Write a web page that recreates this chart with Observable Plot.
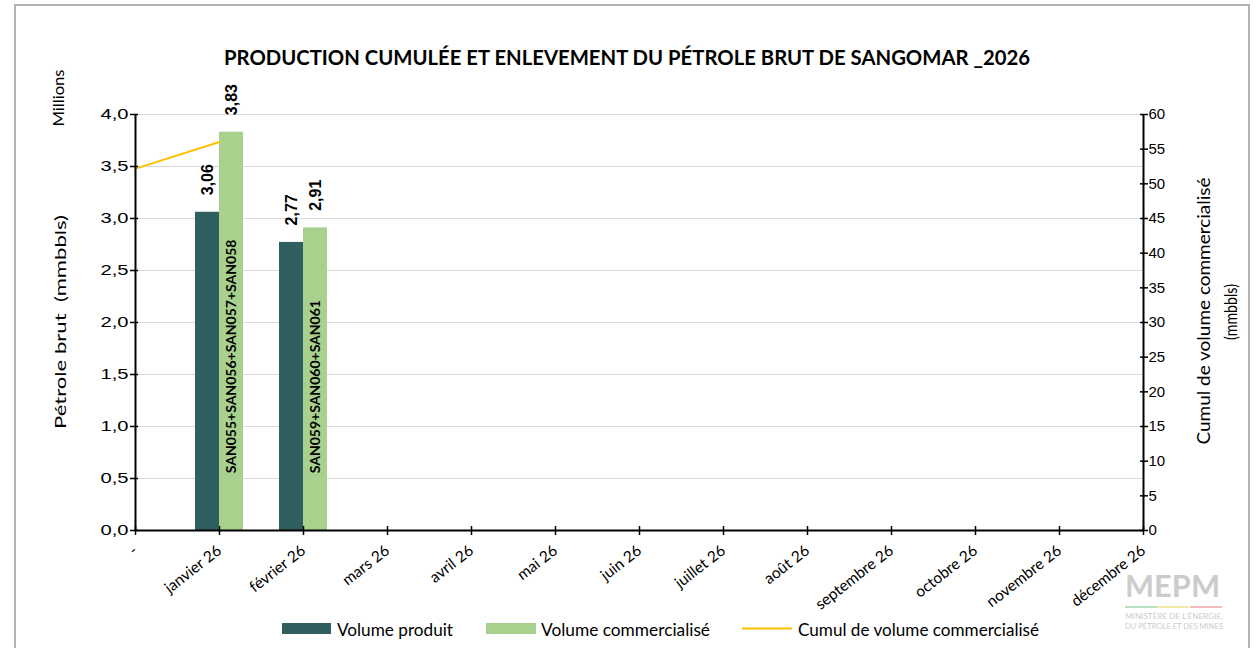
<!DOCTYPE html>
<html><head><meta charset="utf-8">
<script src="https://cdn.jsdelivr.net/npm/d3@7"></script>
<script src="https://cdn.jsdelivr.net/npm/@observablehq/plot@0.6"></script>
<style>body{margin:0;background:#fff;} #chart{position:relative;width:1258px;height:648px;overflow:hidden;}</style>
</head><body><div id="chart"></div>
<script>
const categories = ["-", "janvier 26", "février 26", "mars 26", "avril 26", "mai 26", "juin 26", "juillet 26", "août 26", "septembre 26", "octobre 26", "novembre 26", "décembre 26"];
const produced = [null, 3.06, 2.77, null, null, null, null, null, null, null, null, null, null];
const sold = [null, 3.83, 2.91, null, null, null, null, null, null, null, null, null, null];
const cumulative = [52.2, 56.03, null, null, null, null, null, null, null, null, null, null, null];
const liftings = [null, "SAN055+SAN056+SAN057+SAN058", "SAN059+SAN060+SAN061", null, null, null, null, null, null, null, null, null, null];
const leftTicks = [0, 0.5, 1, 1.5, 2, 2.5, 3, 3.5, 4];
const rightTicks = [0, 5, 10, 15, 20, 25, 30, 35, 40, 45, 50, 55, 60];
const seriesNames = ["Volume produit", "Volume commercialisé", "Cumul de volume commercialisé"];
const titleText = "PRODUCTION CUMULÉE ET ENLEVEMENT DU PÉTROLE BRUT DE SANGOMAR _2026";

const colors = ["#2F5F5E", "#A9D18E", "#FFC000"];
const rightPerLeft = 15;          // right axis max (60) / left axis max (4)
const BW = 24 / 84;               // bar width as a share of one category step
const liftLabelY = 0.55;          // where the lifting names start inside the bars

const rows = categories.map((c, i) => ({i, c, produced: produced[i], sold: sold[i], cumul: cumulative[i], lifting: liftings[i]}));
const fmt = v => v.toFixed(2).replace(".", ",");
const W = 1258, H = 648;

const svg = Plot.plot({
  width: W, height: H,
  marginLeft: 135, marginRight: 115, marginTop: 114, marginBottom: 118,
  x: {type: "linear", domain: [0, categories.length - 1]},
  y: {domain: [0, 4]},
  style: {background: "transparent", color: "#000", fontFamily: "'Liberation Sans', Arial, sans-serif"},
  marks: [
    Plot.ruleY(leftTicks.filter(d => d > 0), {stroke: "#d9d9d9", strokeWidth: 1}),
    Plot.rect(rows.filter(d => d.produced != null), {x1: d => d.i - BW, x2: "i", y1: 0, y2: "produced", fill: colors[0]}),
    Plot.rect(rows.filter(d => d.sold != null), {x1: "i", x2: d => d.i + BW, y1: 0, y2: "sold", fill: colors[1]}),
    Plot.line(rows.filter(d => d.cumul != null), {x: "i", y: d => d.cumul / rightPerLeft, stroke: colors[2], strokeWidth: 2}),
    Plot.ruleX([0, categories.length - 1], {stroke: "#000", strokeWidth: 2}),
    Plot.ruleY([0], {stroke: "#000", strokeWidth: 2}),
    Plot.ruleY(leftTicks, {x1: 0, x2: 0, insetLeft: -5, insetRight: -3, stroke: "#000", strokeWidth: 1.5}),
    Plot.ruleY(rightTicks.map(v => v / rightPerLeft), {x1: categories.length - 1, x2: categories.length - 1, insetLeft: -3, insetRight: -5, stroke: "#000", strokeWidth: 1.5}),
    Plot.ruleX(rows, {x: "i", y1: 0, y2: 0, insetTop: -4, insetBottom: -5, stroke: "#000", strokeWidth: 1.5}),
    Plot.axisY({ticks: leftTicks, tickSize: 0, tickPadding: 7, tickFormat: d => d.toFixed(1).replace(".", ","), fontSize: 15, label: null}),
    Plot.axisY({anchor: "right", ticks: rightTicks.map(v => v / rightPerLeft), tickSize: 0, tickPadding: 5, tickFormat: d => String(Math.round(d * rightPerLeft)), fontSize: 15, label: null}),
    Plot.axisX({ticks: rows.map(d => d.i), tickSize: 0, tickPadding: 18, tickRotate: -38, tickFormat: i => categories[i], fontSize: 15.5, fontFamily: "Lato, sans-serif", label: null}),
    Plot.text(rows.filter(d => d.produced != null), {x: d => d.i - BW / 2, y: "produced", text: d => fmt(d.produced), rotate: -90, textAnchor: "start", dy: -17, fontWeight: "bold", fontSize: 16}),
    Plot.text(rows.filter(d => d.sold != null), {x: d => d.i + BW / 2, y: "sold", text: d => fmt(d.sold), rotate: -90, textAnchor: "start", dy: -17, fontWeight: "bold", fontSize: 16}),
    Plot.text(rows.filter(d => d.lifting), {x: d => d.i + BW / 2, y: liftLabelY, text: "lifting", rotate: -90, textAnchor: "start", fontWeight: "bold", fontSize: 14, fontFamily: "Lato, sans-serif"})
  ]
});
document.getElementById("chart").appendChild(svg);

const s = d3.select(svg);
// left tick labels are drawn a little wider in the reference
s.selectAll('g[aria-label="y-axis tick label"]').filter((d, i) => i === 0).selectAll("text")
  .attr("textLength", 28).attr("lengthAdjust", "spacingAndGlyphs");

// frame
s.append("rect").attr("x", 15).attr("y", 5).attr("width", 1234).attr("height", 700)
  .attr("fill", "none").attr("stroke", "#b3b3b3").attr("stroke-width", 2);

// title
s.append("text").attr("x", 627).attr("y", 65).attr("text-anchor", "middle")
  .attr("font-family", "Lato, sans-serif").attr("font-weight", "bold").attr("font-size", 21)
  .attr("textLength", 806).attr("lengthAdjust", "spacingAndGlyphs").text(titleText);

// axis titles
const vtext = (x, y, str, size, len) => {
  const t = s.append("text").attr("transform", `translate(${x},${y}) rotate(-90)`)
    .attr("text-anchor", "middle").attr("dominant-baseline", "central")
    .attr("font-family", "Lato, sans-serif").attr("font-size", size).text(str);
  if (len) t.attr("textLength", len).attr("lengthAdjust", "spacingAndGlyphs");
};
vtext(57, 98, "Millions", 16, 57);
vtext(60, 322, "Pétrole brut  (mmbbls)", 15.5, 214);
vtext(1203, 311, "Cumul de volume commercialisé", 18, 267);
vtext(1230, 312, "(mmbbls)", 17, 56);

// legend
const lg = s.append("g").attr("font-family", "Lato, sans-serif").attr("font-size", 17).attr("text-anchor", "start");
const legendItems = [
  {x: 282, w: 49, tx: 337, tl: 116},
  {x: 486, w: 50, tx: 541, tl: 169},
  {x: 742, w: 50, tx: 798, tl: 241}
];
legendItems.forEach((it, k) => {
  if (k < 2) lg.append("rect").attr("x", it.x).attr("y", 623).attr("width", it.w).attr("height", 11).attr("fill", colors[k]);
  else lg.append("line").attr("x1", it.x).attr("x2", it.x + it.w).attr("y1", 628.5).attr("y2", 628.5).attr("stroke", colors[k]).attr("stroke-width", 2);
  lg.append("text").attr("x", it.tx).attr("y", 629).attr("dominant-baseline", "central").attr("text-anchor", "start")
    .attr("textLength", it.tl).attr("lengthAdjust", "spacingAndGlyphs").text(seriesNames[k]);
});

// logo
const logo = s.append("g").attr("fill", "#cccccc").attr("font-family", "Lato, sans-serif").attr("text-anchor", "start");
logo.append("text").attr("x", 1125).attr("y", 597).attr("font-weight", "bold").attr("font-size", 30)
  .attr("textLength", 95).attr("lengthAdjust", "spacingAndGlyphs").text("MEPM");
[["#b5dfbf", 1125], ["#f2eaa8", 1157], ["#f3b8b8", 1190]].forEach(([c, x]) =>
  s.append("rect").attr("x", x).attr("y", 606).attr("width", 32).attr("height", 2).attr("fill", c));
logo.append("text").attr("x", 1125).attr("y", 619).attr("font-size", 7).attr("textLength", 98).attr("lengthAdjust", "spacingAndGlyphs").text("MINISTÈRE DE L'ÉNERGIE,");
logo.append("text").attr("x", 1125).attr("y", 629).attr("font-size", 7).attr("textLength", 98).attr("lengthAdjust", "spacingAndGlyphs").text("DU PÉTROLE ET DES MINES");
</script>
</body></html>
